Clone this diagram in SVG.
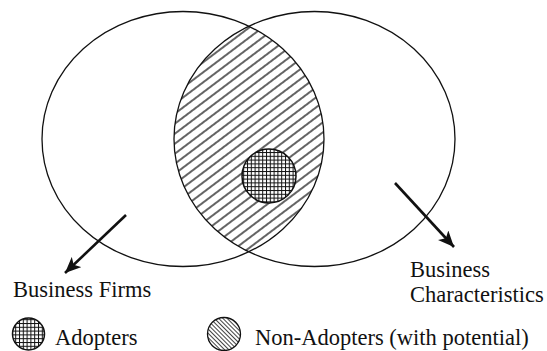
<svg xmlns="http://www.w3.org/2000/svg" width="547" height="351" viewBox="0 0 547 351">
  <style>
    .outline { fill: none; stroke: #111; stroke-width: 1.3; }
    text { font-family: "Liberation Serif", "Times New Roman", "DejaVu Serif", serif; font-size: 22.5px; fill: #111; }
    .arrow { stroke: #111; stroke-width: 2.6; fill: none; }
  </style>
  <defs>
    <pattern id="hatch" patternUnits="userSpaceOnUse" width="8" height="8" patternTransform="rotate(-37)">
      <line x1="0" y1="4" x2="8" y2="4" stroke="#111" stroke-width="1.3"/>
    </pattern>
    <pattern id="grid" patternUnits="userSpaceOnUse" width="3.8" height="3.8">
      <rect width="3.8" height="3.8" fill="#fff"/>
      <line x1="0" y1="0.5" x2="3.8" y2="0.5" stroke="#111" stroke-width="1"/>
      <line x1="0.5" y1="0" x2="0.5" y2="3.8" stroke="#111" stroke-width="1"/>
    </pattern>
    <pattern id="hatchDense" patternUnits="userSpaceOnUse" width="3" height="3" patternTransform="rotate(45)">
      <rect width="3" height="3" fill="#fff"/>
      <line x1="0" y1="1.5" x2="3" y2="1.5" stroke="#111" stroke-width="0.8"/>
    </pattern>
    <clipPath id="leftClip">
      <ellipse cx="183" cy="139" rx="141" ry="127.5"/>
    </clipPath>
    <marker id="head" markerUnits="userSpaceOnUse" markerWidth="18" markerHeight="14" refX="16" refY="7" orient="auto">
      <path d="M0,0 L16,7 L0,14 L4,7 Z" fill="#111"/>
    </marker>
  </defs>

  <g id="intersection-non-adopters">
    <ellipse cx="314.5" cy="139" rx="140.5" ry="127.5" fill="url(#hatch)" clip-path="url(#leftClip)"/>
  </g>

  <g id="business-firms">
    <ellipse class="outline" cx="183" cy="139" rx="141" ry="127.5"/>
  </g>

  <g id="business-characteristics">
    <ellipse class="outline" cx="314.5" cy="139" rx="140.5" ry="127.5"/>
  </g>

  <g id="adopters">
    <circle cx="269" cy="176" r="27" fill="url(#grid)" stroke="#111" stroke-width="1.5"/>
  </g>

  <g id="connectors">
    <line class="arrow" x1="126" y1="215" x2="65" y2="273" marker-end="url(#head)"/>
    <line class="arrow" x1="395" y1="183" x2="454" y2="247" marker-end="url(#head)"/>
  </g>

  <g id="label-business-firms">
    <text x="13" y="297" font-family="Liberation Serif, serif">Business Firms</text>
  </g>
  <g id="label-business-characteristics">
    <text x="410" y="277" font-family="Liberation Serif, serif">Business</text>
    <text x="410" y="302" font-family="Liberation Serif, serif">Characteristics</text>
  </g>

  <g id="legend-adopters">
    <circle cx="28.5" cy="334" r="16" fill="url(#grid)" stroke="#111" stroke-width="1.5"/>
    <text x="55" y="345" font-family="Liberation Serif, serif">Adopters</text>
  </g>
  <g id="legend-non-adopters">
    <circle cx="224" cy="334" r="16.5" fill="url(#hatchDense)" stroke="#111" stroke-width="1.3"/>
    <text x="255" y="345" font-family="Liberation Serif, serif">Non-Adopters (with potential)</text>
  </g>
</svg>
